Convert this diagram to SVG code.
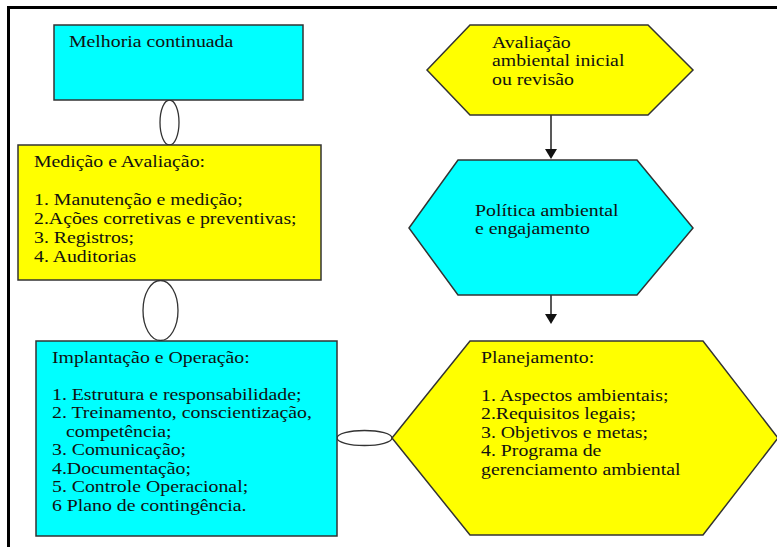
<svg xmlns="http://www.w3.org/2000/svg" width="777" height="547" viewBox="0 0 777 547">
<style>
.bg{fill:#fff}
.frame{fill:none;stroke:#000;stroke-width:3}
.y{fill:#ffff00;stroke:#333;stroke-width:1.5}
.c{fill:#00ffff;stroke:#333;stroke-width:1.5}
.link{fill:#fff;stroke:#333;stroke-width:1.3}
.arr{stroke:#222;stroke-width:1.5;fill:none}
.head{fill:#111}
.t{font-family:'Liberation Serif','DejaVu Serif',serif;font-size:17px;fill:#111}
</style>
<rect class="bg" x="0" y="0" width="777" height="547"/>
<path class="frame" d="M8.5,549 V7.5 H780"/>

<g id="connectors">
<ellipse class="link" cx="169.5" cy="122.5" rx="9.5" ry="22.5"/>
<ellipse class="link" cx="160.5" cy="310.5" rx="17.5" ry="30"/>
<ellipse class="link" cx="364.5" cy="438" rx="27.5" ry="7.5"/>
<line class="arr" x1="551" y1="115" x2="551" y2="150"/>
<polygon class="head" points="545,149 557,149 551,159"/>
<line class="arr" x1="551" y1="295" x2="551" y2="315"/>
<polygon class="head" points="545,314 557,314 551,324"/>
</g>

<g id="melhoria">
<rect class="c" x="54" y="25" width="249" height="75"/>
<g transform="translate(69,0) scale(1.165,1)"><text class="t" x="0" y="47">Melhoria continuada</text></g>
</g>

<g id="medicao">
<rect class="y" x="18" y="145" width="303" height="135"/>
<g transform="translate(34,0) scale(1.165,1)"><text class="t">
<tspan x="0" y="167">Medição e Avaliação:</tspan>
<tspan x="0" y="205">1. Manutenção e medição;</tspan>
<tspan x="0" y="224">2.Ações corretivas e preventivas;</tspan>
<tspan x="0" y="243">3. Registros;</tspan>
<tspan x="0" y="262">4. Auditorias</tspan>
</text></g>
</g>

<g id="implantacao">
<rect class="c" x="36" y="341" width="301" height="195"/>
<g transform="translate(52,0) scale(1.165,1)"><text class="t">
<tspan x="0" y="363">Implantação e Operação:</tspan>
<tspan x="0" y="400">1. Estrutura e responsabilidade;</tspan>
<tspan x="0" y="418.5">2. Treinamento, conscientização,</tspan>
<tspan x="12" y="437">competência;</tspan>
<tspan x="0" y="455.5">3. Comunicação;</tspan>
<tspan x="0" y="474">4.Documentação;</tspan>
<tspan x="0" y="492.5">5. Controle Operacional;</tspan>
<tspan x="0" y="511">6 Plano de contingência.</tspan>
</text></g>
</g>

<g id="avaliacao">
<polygon class="y" points="427,70 470,25 648,25 693,70 648,115 470,115"/>
<g transform="translate(492,0) scale(1.165,1)"><text class="t">
<tspan x="0" y="48">Avaliação</tspan>
<tspan x="0" y="66.5">ambiental inicial</tspan>
<tspan x="0" y="85">ou revisão</tspan>
</text></g>
</g>

<g id="politica">
<polygon class="c" points="409,228 458,160 637,160 693,228 637,295 458,295"/>
<g transform="translate(475,0) scale(1.165,1)"><text class="t">
<tspan x="0" y="216">Política ambiental</tspan>
<tspan x="0" y="234.5">e engajamento</tspan>
</text></g>
</g>

<g id="planejamento">
<polygon class="y" points="392,438 470,341 703,341 778,438 703,535 470,535"/>
<g transform="translate(481,0) scale(1.165,1)"><text class="t">
<tspan x="0" y="363">Planejamento:</tspan>
<tspan x="0" y="401">1. Aspectos ambientais;</tspan>
<tspan x="0" y="419.5">2.Requisitos legais;</tspan>
<tspan x="0" y="438">3. Objetivos e metas;</tspan>
<tspan x="0" y="456.5">4. Programa de</tspan>
<tspan x="0" y="475">gerenciamento ambiental</tspan>
</text></g>
</g>
</svg>
